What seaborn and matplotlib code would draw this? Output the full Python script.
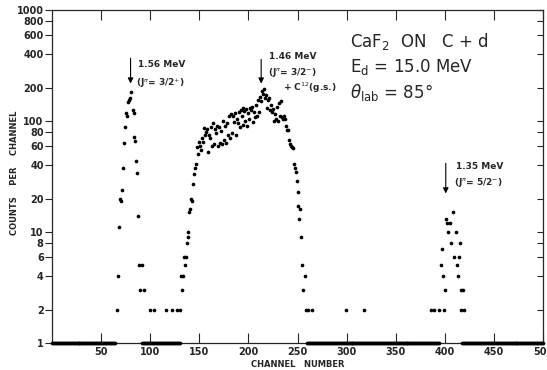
import numpy as np
import pandas as pd
import seaborn as sns
import matplotlib.pyplot as plt

# counts (channel -> counts)
peak1_ch = [66, 67, 68, 69, 70, 71, 72, 73, 74, 75, 76, 77, 78, 79, 80, 82, 83, 84, 85, 86,
            87, 88, 89, 90, 92, 94, 100, 104, 116, 122, 127, 130]
peak1_cnt = [2, 4, 11, 20, 19, 24, 38, 63, 89, 117, 112, 149, 155, 160, 184, 126, 118, 72, 66, 44,
             34, 14, 5, 3, 5, 3, 2, 2, 2, 2, 2, 2]

hump_ch = list(range(131, 257)) + [258, 259, 261, 265, 299, 318]
hump_cnt = [4, 3, 4, 6, 5, 6, 8, 9, 10, 15,            # 131-140
            16, 20, 19, 27, 33, 38, 41, 58, 50, 65,     # 141-150
            60, 55, 70, 65, 86, 75, 80, 84, 53, 75,     # 151-160
            70, 89, 60, 95, 62, 85, 78, 90, 60, 88,     # 161-170
            64, 82, 62, 100, 68, 90, 63, 95, 75, 110,   # 171-180
            70, 115, 78, 112, 98, 118, 75, 105, 95, 120,  # 181-190
            88, 125, 110, 130, 92, 122, 100, 128, 90, 118,  # 191-200
            105, 130, 125, 135, 98, 120, 108, 140, 112, 155,  # 201-210
            120, 165, 150, 185, 175, 195, 160, 170, 130, 155,  # 211-220
            160, 125, 140, 120, 128, 100, 115, 105, 135, 100,  # 221-230
            145, 110, 150, 108, 105, 110, 105, 90, 83, 83,     # 231-240
            67, 62, 60, 58, 57, 41, 38, 35, 29, 17,            # 241-250
            23, 13, 16, 9, 5, 3,                               # 251-256
            4, 2, 2, 2, 2, 2]

peak3_ch = [386, 389, 394, 396, 397, 398, 399, 400, 401, 402, 403, 405, 406, 408, 409, 411,
            412, 413, 414, 415, 416, 417, 419, 420]
peak3_cnt = [2, 2, 2, 5, 7, 4, 2, 3, 13, 12, 10, 12, 8, 15, 6, 10,
             5, 4, 6, 8, 3, 2, 3, 2]

# channels sitting on the baseline (1 count)
baseline_ranges = [(0, 64), (92, 130), (260, 394), (418, 500)]

y_ticks = [1, 2, 4, 6, 8, 10, 20, 40, 60, 80, 100, 200, 400, 600, 800, 1000]
x_ticks = [50, 100, 150, 200, 250, 300, 350, 400, 450, 500]

base_ch = np.concatenate([np.arange(a, b + 1) for a, b in baseline_ranges])
df = pd.DataFrame({
    'channel': np.concatenate([peak1_ch, hump_ch, peak3_ch, base_ch]),
    'counts': np.concatenate([peak1_cnt, hump_cnt, peak3_cnt, np.ones(len(base_ch))]),
})

sns.set_style('ticks')
plt.rcParams['font.family'] = ['DejaVu Sans']

fig = plt.figure(figsize=(5.47, 3.70), dpi=100)
ax = fig.add_axes([52 / 547, 1 - 343 / 370, 491 / 547, 333 / 370])
sns.scatterplot(data=df, x='channel', y='counts', ax=ax, color='black', s=7,
                linewidth=0, clip_on=False, zorder=3)

ax.set_yscale('log')
ax.set_xlim(0, 500)
ax.set_ylim(1, 1000)
ax.set_yticks(y_ticks)
ax.set_yticklabels([str(t) for t in y_ticks], fontsize=7, fontweight='bold')
ax.minorticks_off()
ax.set_xticks(x_ticks)
ax.set_xticklabels([str(t) for t in x_ticks], fontsize=7, fontweight='bold')
ax.tick_params(axis='x', direction='in', length=7, width=0.8, top=True, pad=3)
ax.tick_params(axis='y', direction='out', length=5, width=0.8, pad=1)
ax.tick_params(axis='y', which='major', right=True)
for t in ax.yaxis.get_major_ticks():
    t.tick2line.set_marker(0)  # right side ticks point inward
    t.tick2line.set_markersize(4)
for s in ax.spines.values():
    s.set_linewidth(0.9)

ax.set_xlabel('CHANNEL   NUMBER', fontsize=6, fontweight='bold')
ax.xaxis.set_label_coords(0.5, -0.052)
ax.set_ylabel('COUNTS    PER    CHANNEL', fontsize=6, fontweight='bold')
ax.yaxis.set_label_coords(-0.068, 0.51)

arrow = dict(arrowstyle='-|>', color='black', lw=0.8, mutation_scale=8)
ax.annotate('', xy=(80, 205), xytext=(80, 390), arrowprops=arrow)
ax.annotate('', xy=(213, 205), xytext=(213, 380), arrowprops=arrow)
ax.annotate('', xy=(401, 21), xytext=(401, 44), arrowprops=arrow)

lab = dict(fontsize=6.5, fontweight='bold', va='center', ha='left')
ax.text(88, 320, '1.56 MeV', **lab)
ax.text(86, 220, r'(J$^{\pi}$= 3/2$^{+}$)', **lab)
ax.text(221, 380, '1.46 MeV', **lab)
ax.text(220, 272, r'(J$^{\pi}$= 3/2$^{-}$)', **lab)
ax.text(235, 198, r'+ C$^{12}$(g.s.)', **lab)
ax.text(411, 39, '1.35 MeV', **lab)
ax.text(409, 28, r'(J$^{\pi}$= 5/2$^{-}$)', **lab)

big = dict(fontsize=12, transform=ax.transAxes, va='center', ha='left')
ax.text(0.607, 0.904, r'CaF$_2$  ON   C + d', **big)
ax.text(0.607, 0.829, r'E$_{\rm d}$ = 15.0 MeV', **big)
ax.text(0.607, 0.751, r'$\theta_{\rm lab}$ = 85°', **big)

fig.savefig('out.png', dpi=100)
